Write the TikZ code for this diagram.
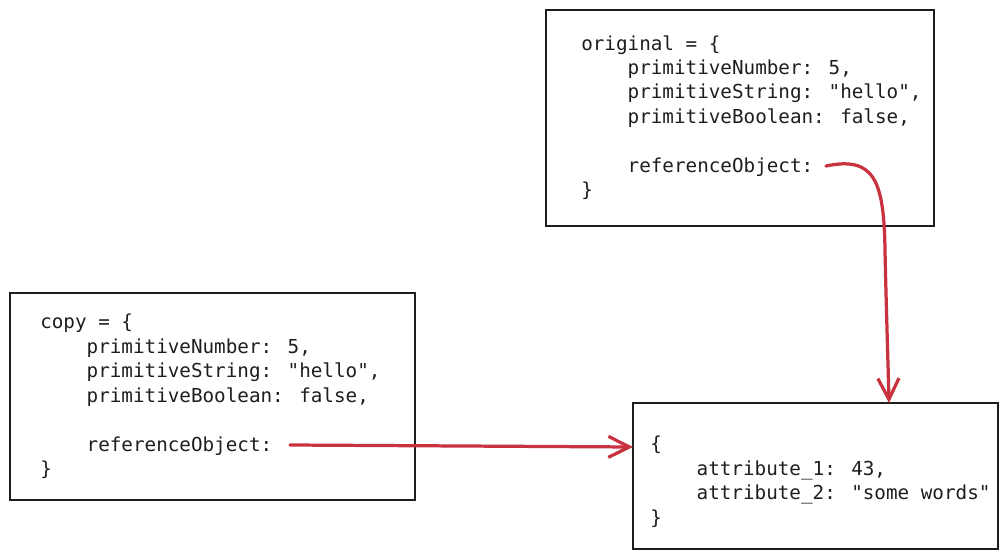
\documentclass[tikz,border=0pt]{standalone}
\usepackage{fontspec}
\newfontfamily\codefont{DejaVu Sans Mono}
\usetikzlibrary{arrows.meta,calc}
\definecolor{refred}{HTML}{C8323F}
\definecolor{ink}{HTML}{1E1E1E}
\newcommand{\ind}{\phantom{xxxx}}

\begin{document}
\begin{tikzpicture}[
  x=0.025cm, y=-0.025cm,
  objbox/.style={draw=ink, line width=1.9pt, inner sep=0pt, outer sep=0pt, anchor=north west},
  code/.style={font=\codefont\fontsize{13.7pt}{17.4pt}\selectfont, align=left, inner sep=0pt, anchor=north west, text=ink},
  ref/.style={draw=refred, line width=2.3pt, line cap=round,
    -{Straight Barb[length=15pt, width=15pt, line width=2.3pt]}}
]
\useasboundingbox (0,0) rectangle (1008,558);

% === original object ===
\node[objbox, minimum width=9.7cm, minimum height=5.4cm] (orig) at (546,10) {};
\node[code] (origtxt) at ($(orig.north west)+(35,25)$) {%
  original = \{\\
  \ind primitiveNumber: 5,\\
  \ind primitiveString: "hello",\\
  \ind primitiveBoolean: false,\\
  \strut\\
  \ind referenceObject:\\
  \}};
\coordinate (origref) at (826,166);

% === shallow copy ===
\node[objbox, minimum width=10.125cm, minimum height=5.175cm] (copy) at (10,293) {};
\node[code] (copytxt) at ($(copy.north west)+(30,21)$) {%
  copy = \{\\
  \ind primitiveNumber: 5,\\
  \ind primitiveString: "hello",\\
  \ind primitiveBoolean: false,\\
  \strut\\
  \ind referenceObject:\\
  \}};
\coordinate (copyref) at (290,445);

% === shared referenced object ===
\node[objbox, minimum width=9.125cm, minimum height=3.65cm] (obj) at (633,403) {};
\node[code] (objtxt) at ($(obj.north west)+(17,33)$) {%
  \{\\
  \ind attribute\_1: 43,\\
  \ind attribute\_2: "some words"\\
  \}};
\coordinate (objtop) at ($(obj.north west)+(256,0)$);
\coordinate (objleft) at ($(obj.north west)+(0,44)$);

% references
\draw[ref] (origref) .. controls (874,156) and (884,180) .. (885,250)
  .. controls (886,300) and (888,360) .. (objtop);
\draw[ref] (copyref) -- (objleft);
\end{tikzpicture}
\end{document}
